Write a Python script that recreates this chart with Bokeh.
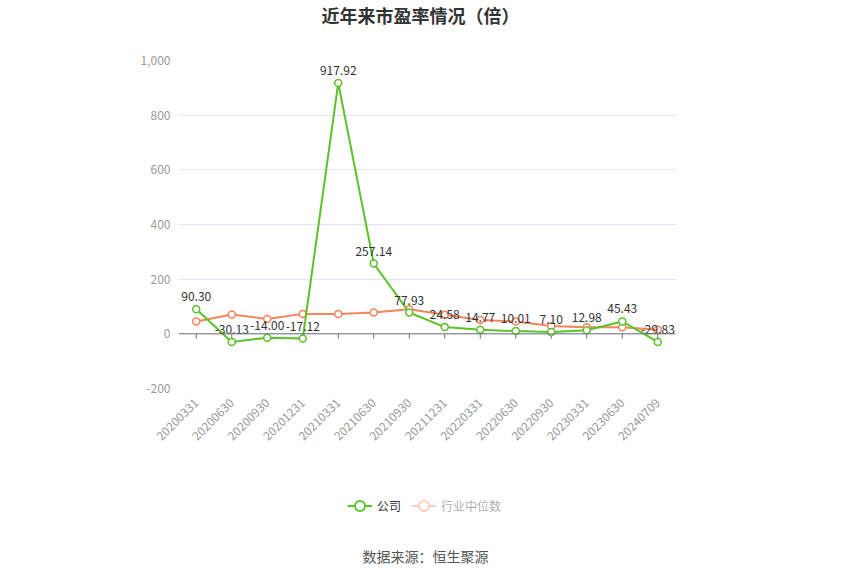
import math
from bokeh.plotting import figure
from bokeh.layouts import column
from bokeh.models import (ColumnDataSource, FactorRange, Range1d, Span, Label,
                          Legend, LegendItem, NumeralTickFormatter, FixedTicker)
from bokeh.core.properties import value
from bokeh.embed import file_html
from bokeh.resources import INLINE

# ---- data ----
dates = ["20200331", "20200630", "20200930", "20201231", "20210331", "20210630",
         "20210930", "20211231", "20220331", "20220630", "20220930", "20230331",
         "20230630", "20240709"]
company_pe = [90.30, -30.13, -14.00, -17.12, 917.92, 257.14, 77.93, 24.58,
              14.77, 10.01, 7.10, 12.98, 45.43, -29.83]
industry_median = [45, 71, 54, 73, 73, 78, 90, 70, 51, 45, 29, 24, 24, 15]
y_ticks = [-200, 0, 200, 400, 600, 800, 1000]

title_text = "近年来市盈率情况（倍）"
legend_company = "公司"
legend_industry = "行业中位数"
source_text = "数据来源：恒生聚源"

FONT = "Noto Sans CJK SC"
GREEN = "#5BC22A"
ORANGE = "#F7845A"

W = 850
H_TOP, H_MAIN, H_BOT = 30, 430, 114
BL, BR, BT, BB = 178, 175, 30, 72
FL, FR = BL, W - BR          # frame left/right in page pixels
frame_h = H_MAIN - BT - BB
y_min, y_max = -200, 1000
units_per_px = (y_max - y_min) / frame_h


def blank_fig(h):
    f = figure(width=W, height=h, x_range=Range1d(FL, FR), y_range=Range1d(0, h),
               output_backend="svg", toolbar_location=None,
               min_border_left=BL, min_border_right=BR, min_border_top=0, min_border_bottom=0)
    f.axis.visible = False
    f.grid.grid_line_color = None
    f.outline_line_color = None
    f.background_fill_color = "white"
    f.border_fill_color = "white"
    return f


# ---- title figure ----
ft = blank_fig(H_TOP)
ft.add_layout(Label(x=420, y=H_TOP - 14, text=title_text, text_align="center",
                    text_baseline="middle", text_font=FONT, text_font_size="18px",
                    text_font_style="bold", text_color="#333333"))

# ---- main figure ----
p = figure(width=W, height=H_MAIN, x_range=FactorRange(factors=dates, range_padding=0),
           y_range=Range1d(y_min, y_max), output_backend="svg", toolbar_location=None,
           min_border_left=BL, min_border_right=BR, min_border_top=BT, min_border_bottom=BB)
p.outline_line_color = None
p.background_fill_color = "white"
p.border_fill_color = "white"

p.xaxis.axis_line_color = None
p.xaxis.major_tick_line_color = None
p.xaxis.minor_tick_line_color = None
p.xaxis.major_label_orientation = math.pi / 4
p.xaxis.major_label_text_color = "#999999"
p.xaxis.major_label_text_font = FONT
p.xaxis.major_label_text_font_size = "12px"
p.xaxis.major_label_standoff = 6

p.yaxis.axis_line_color = None
p.yaxis.major_tick_line_color = None
p.yaxis.minor_tick_line_color = None
p.yaxis.major_tick_out = 0
p.yaxis.major_tick_in = 0
p.yaxis.ticker = FixedTicker(ticks=y_ticks)
p.yaxis.formatter = NumeralTickFormatter(format="0,0")
p.yaxis.major_label_text_color = "#999999"
p.yaxis.major_label_text_font = FONT
p.yaxis.major_label_text_font_size = "12px"
p.yaxis.major_label_standoff = 8

p.xgrid.grid_line_color = None
p.ygrid.grid_line_color = "#E0E6F1"
p.ygrid.ticker = FixedTicker(ticks=y_ticks)

# zero axis line with ticks
p.add_layout(Span(location=0, dimension="width", line_color="#6E7079", line_width=1))
tick_len = 5 * units_per_px
p.segment(x0=dates, y0=[0] * len(dates), x1=dates, y1=[-tick_len] * len(dates),
          line_color="#6E7079", line_width=1)

src = ColumnDataSource(dict(x=dates, c=company_pe, m=industry_median,
                            lab=[f"{v:.2f}" for v in company_pe]))
p.line("x", "m", source=src, line_color=ORANGE, line_width=2)
p.scatter("x", "m", source=src, size=7, fill_color="white", line_color=ORANGE, line_width=1.5)
p.line("x", "c", source=src, line_color=GREEN, line_width=2)
p.scatter("x", "c", source=src, size=7, fill_color="white", line_color=GREEN, line_width=1.5)
p.text("x", "c", text="lab", source=src, y_offset=-8, text_align="center",
       text_baseline="bottom", text_color="#333333", text_font=value(FONT),
       text_font_size="12px")

# ---- legend + source figure ----
fb = blank_fig(H_BOT)
off = ColumnDataSource(dict(x=[-1000], y=[-1000]))   # dummy, outside the view
lg_c_line = fb.line("x", "y", source=off, line_color=GREEN, line_width=2)
lg_c_pt = fb.scatter("x", "y", source=off, size=10, fill_color="white",
                     line_color=GREEN, line_width=2)
lg_i_line = fb.line("x", "y", source=off, line_color=ORANGE, line_width=2, visible=False)
lg_i_pt = fb.scatter("x", "y", source=off, size=10, fill_color="white",
                     line_color=ORANGE, line_width=2, visible=False)
GH = 25
legend = Legend(items=[LegendItem(label=legend_company, renderers=[lg_c_line, lg_c_pt]),
                       LegendItem(label=legend_industry, renderers=[lg_i_line, lg_i_pt])],
                location=(347 - FL, H_BOT - 45 - GH / 2), orientation="horizontal",
                click_policy="hide",
                glyph_width=25, glyph_height=GH, label_standoff=5, spacing=10,
                padding=0, margin=0, border_line_color=None, background_fill_alpha=0,
                label_text_font=FONT, label_text_font_size="12px",
                label_text_color="#333333", inactive_fill_color="white",
                inactive_fill_alpha=0.6)
fb.add_layout(legend, "center")
fb.add_layout(Label(x=425, y=H_BOT - 95, text=source_text, text_align="center",
                    text_baseline="middle", text_font=FONT, text_font_size="14px",
                    text_color="#555555"))

layout = column(ft, p, fb, spacing=0)
open("out.html", "w").write(file_html(layout, INLINE))
